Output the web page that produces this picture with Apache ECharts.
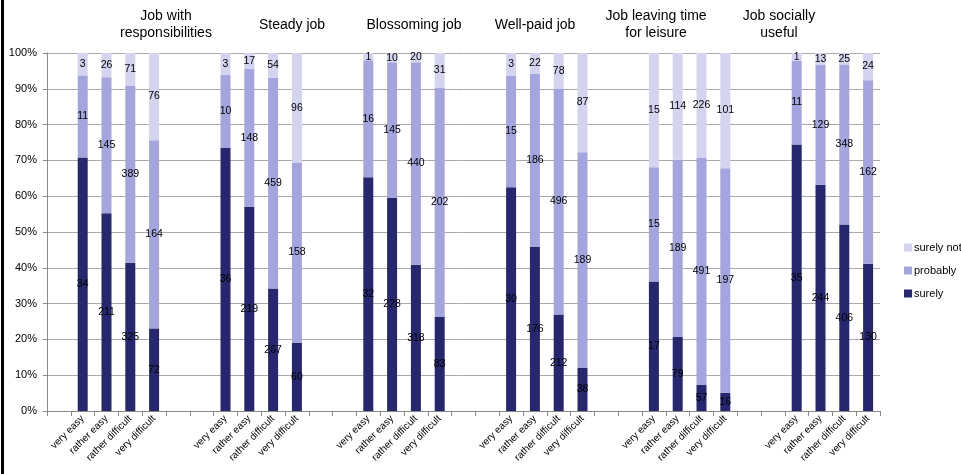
<!DOCTYPE html>
<html>
<head>
<meta charset="utf-8">
<script src="https://cdn.jsdelivr.net/npm/echarts@6/dist/echarts.min.js"></script>
<style>
html,body{margin:0;padding:0;background:#fff;}
#chart{width:961px;height:474px;}
</style>
</head>
<body>
<div id="chart"></div>
<script>
var groupTitles = ["Job with\nresponsibilities", "Steady job", "Blossoming job", "Well-paid job", "Job leaving time\nfor leisure", "Job socially\nuseful"];
var levels = ["very easy", "rather easy", "rather difficult", "very difficult"];
var seriesNames = ["surely", "probably", "surely not"];
var surely    = [34,211,325,72, 36,219,267,60, 32,228,318,83, 30,176,212,38, 17,79,57,16, 35,244,406,130];
var probably  = [11,145,389,164, 10,148,459,158, 16,145,440,202, 15,186,496,189, 15,189,491,197, 11,129,348,162];
var surelyNot = [3,26,71,76, 3,17,54,96, 1,10,20,31, 3,22,78,87, 15,114,226,101, 1,13,25,24];
var yTicks = ["0%","10%","20%","30%","40%","50%","60%","70%","80%","90%","100%"];

var counts = [surely, probably, surelyNot];
// build category axis: leading blank, groups of 4 separated by 2 blanks
var categories = [];
var slotIndex = []; // category index -> data index or -1
categories.push(""); slotIndex.push(-1);
for (var g = 0; g < 6; g++) {
  for (var k = 0; k < 4; k++) { categories.push(levels[k]); slotIndex.push(g*4+k); }
  if (g < 5) { categories.push(""); slotIndex.push(-1); categories.push(""); slotIndex.push(-1); }
}
function pctData(arr) {
  return slotIndex.map(function(i){
    if (i < 0) return '-';
    var tot = surely[i] + probably[i] + surelyNot[i];
    return arr[i] / tot * 100;
  });
}
var colors = ["#27276f", "#a4a4de", "#d4d4f1"];
var series = seriesNames.map(function(name, si){
  return {
    name: name,
    type: 'bar',
    stack: 'all',
    barWidth: 10,
    data: pctData(counts[si]),
    itemStyle: {color: colors[si]},
    label: {
      show: true,
      position: 'inside',
      color: '#000',
      fontSize: 10.5,
      fontFamily: 'Liberation Sans, Arial, sans-serif',
      formatter: function(p){ var i = slotIndex[p.dataIndex]; return i < 0 ? '' : String(counts[si][i]); }
    },
    emphasis: {disabled: true}
  };
});

var titlePos = [[166,25],[292,25],[414,25],[535,25],[656,25],[779,25]];
var graphics = [{type:'rect', left:1, top:0, shape:{width:3, height:474}, style:{fill:'#000'}}];
groupTitles.forEach(function(t, i){
  graphics.push({type:'text', x:titlePos[i][0], y:titlePos[i][1], style:{text:t, fill:'#000', font:'14px "Liberation Sans", Arial, sans-serif', textAlign:'center', textVerticalAlign:'middle', lineHeight:17}});
});

var chart = echarts.init(document.getElementById('chart'), null, {renderer:'canvas'});
chart.setOption({
  animation: false,
  backgroundColor: '#fff',
  grid: {left: 47, right: 81, top: 53, bottom: 63, containLabel: false},
  legend: {
    data: ["surely not", "probably", "surely"],
    orient: 'vertical',
    left: 899, top: 237,
    itemWidth: 8, itemHeight: 8, itemGap: 12,
    icon: 'rect',
    textStyle: {fontSize: 11, color: '#000', fontFamily: 'Liberation Sans, Arial, sans-serif', padding:[0,0,0,-3]},
    selectedMode: false
  },
  xAxis: {
    type: 'category',
    data: categories,
    boundaryGap: true,
    axisLine: {lineStyle: {color: '#888'}},
    axisTick: {show: true, length: 5, interval: 0, lineStyle: {color: '#888'}},
    axisLabel: {interval: 0, rotate: 45, fontSize: 10, color: '#000', margin: 6, fontFamily: 'Liberation Sans, Arial, sans-serif'}
  },
  yAxis: {
    type: 'value',
    min: 0, max: 100, interval: 10,
    axisLine: {show: true, lineStyle: {color: '#888'}},
    axisTick: {show: true, length: 4, lineStyle: {color: '#888'}},
    splitLine: {lineStyle: {color: '#aaa'}},
    axisLabel: {fontSize: 11, color: '#000', margin: 10, fontFamily: 'Liberation Sans, Arial, sans-serif', formatter: function(v){ return yTicks[Math.round(v/10)]; }}
  },
  series: series,
  graphic: graphics
});
</script>
</body>
</html>
